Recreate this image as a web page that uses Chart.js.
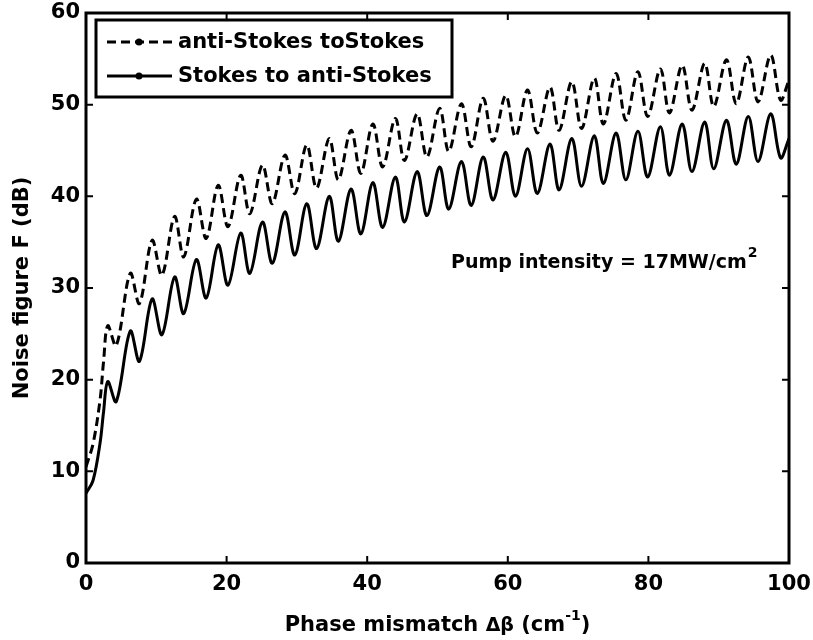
<!DOCTYPE html>
<html>
<head>
<meta charset="utf-8">
<script src="https://cdn.jsdelivr.net/npm/chart.js@4.4.0/dist/chart.umd.min.js"></script>
<style>
  html, body { margin: 0; padding: 0; background: #fff; }
</style>
</head>
<body>
<canvas id="grafico" width="813" height="640"></canvas>
<script>
// Valores (picos e vales de cada oscilação)
const faseX = [
  0, 1, 2, 2.5, 3.1, 4.3, 6.3, 7.6, 9.4, 10.8, 12.6, 13.9, 15.7, 17.1, 18.8, 20.2,
  22.0, 23.3, 25.1, 26.5, 28.3, 29.7, 31.4, 32.8, 34.6, 35.9, 37.7, 39.1, 40.8, 42.2,
  44.0, 45.3, 47.1, 48.5, 50.3, 51.6, 53.4, 54.8, 56.5, 57.9, 59.7, 61.1, 62.8, 64.2,
  66.0, 67.3, 69.1, 70.5, 72.3, 73.6, 75.4, 76.8, 78.5, 79.9, 81.7, 83.0, 84.8, 86.2,
  88.0, 89.3, 91.1, 92.5, 94.2, 95.6, 97.4, 98.8, 100
];

const antiParaStokes = [
  10.5, 13.0, 17.8, 22.0, 25.9, 23.7, 31.6, 28.3, 35.2, 31.4, 37.8, 33.4, 39.7, 35.4, 41.2, 36.7,
  42.3, 38.1, 43.4, 39.2, 44.5, 40.3, 45.6, 40.9, 46.3, 41.8, 47.2, 42.5, 47.9, 43.2,
  48.5, 43.9, 49.0, 44.3, 49.6, 44.9, 50.1, 45.4, 50.7, 46.0, 51.0, 46.5, 51.6, 46.9,
  51.9, 47.2, 52.5, 47.4, 52.9, 47.9, 53.4, 48.3, 53.6, 48.7, 53.9, 49.1, 54.3, 49.4,
  54.5, 49.8, 54.9, 50.1, 55.2, 50.3, 55.4, 50.5, 52.7
];

const stokesParaAnti = [
  7.6, 9.0, 13.1, 16.5, 19.8, 17.6, 25.3, 22.0, 28.8, 24.9, 31.2, 27.2, 33.1, 28.9, 34.7, 30.3,
  36.0, 31.6, 37.2, 32.7, 38.3, 33.6, 39.2, 34.3, 40.0, 35.1, 40.8, 35.9, 41.5, 36.6,
  42.1, 37.2, 42.7, 37.9, 43.2, 38.6, 43.8, 39.0, 44.3, 39.6, 44.8, 40.0, 45.2, 40.3,
  45.7, 40.7, 46.3, 41.1, 46.6, 41.4, 46.9, 41.8, 47.1, 42.1, 47.6, 42.3, 47.9, 42.7,
  48.1, 43.0, 48.3, 43.5, 48.7, 43.8, 49.0, 44.2, 46.3
];

const rotulos = ["anti-Stokes toStokes", "Stokes to anti-Stokes"];
const xTicks = [0, 20, 40, 60, 80, 100];
const yTicks = [0, 10, 20, 30, 40, 50, 60];

const FONTE = '"DejaVu Sans", sans-serif';

function pontos(ys) {
  return faseX.map((x, i) => ({ x: x, y: ys[i] }));
}

// Moldura com ticks para dentro (estilo MATLAB)
const molduraPlugin = {
  id: "moldura",
  afterDatasetsDraw(chart) {
    const { ctx, chartArea: a, scales } = chart;
    const sx = scales.x, sy = scales.y;
    ctx.save();
    ctx.strokeStyle = "#000";
    ctx.lineWidth = 2;
    ctx.beginPath();
    xTicks.forEach((t) => {
      const px = sx.getPixelForValue(t);
      ctx.moveTo(px, a.bottom); ctx.lineTo(px, a.bottom - 7);
      ctx.moveTo(px, a.top); ctx.lineTo(px, a.top + 7);
    });
    yTicks.forEach((t) => {
      const py = sy.getPixelForValue(t);
      ctx.moveTo(a.left, py); ctx.lineTo(a.left + 7, py);
      ctx.moveTo(a.right, py); ctx.lineTo(a.right - 7, py);
    });
    ctx.stroke();
    ctx.lineWidth = 3;
    ctx.strokeRect(a.left, a.top, a.right - a.left, a.bottom - a.top);
    ctx.restore();
  },
  afterDraw(chart) {
    const { ctx, chartArea: a } = chart;
    ctx.save();

    // legenda
    const bx = a.left + 10, by = a.top + 7, bw = 356, bh = 77;
    ctx.fillStyle = "#fff";
    ctx.fillRect(bx, by, bw, bh);
    ctx.strokeStyle = "#000";
    ctx.lineWidth = 3;
    ctx.strokeRect(bx, by, bw, bh);
    chart.data.datasets.forEach((ds, i) => {
      const ly = by + 22 + i * 34;
      ctx.beginPath();
      ctx.lineWidth = 3;
      ctx.setLineDash(ds.borderDash || []);
      ctx.moveTo(bx + 11, ly);
      ctx.lineTo(bx + 76, ly);
      ctx.stroke();
      ctx.setLineDash([]);
      ctx.beginPath();
      ctx.fillStyle = "#000";
      ctx.arc(bx + 43, ly, 3.5, 0, Math.PI * 2);
      ctx.fill();
      ctx.font = "bold 21px " + FONTE;
      ctx.textBaseline = "middle";
      ctx.textAlign = "left";
      ctx.fillText(ds.label, bx + 82, ly + 1);
    });

    // anotação
    ctx.fillStyle = "#000";
    ctx.textBaseline = "alphabetic";
    ctx.font = "bold 19px " + FONTE;
    const txt = "Pump intensity = 17MW/cm";
    ctx.fillText(txt, 451, 268);
    const w = ctx.measureText(txt).width;
    ctx.font = "bold 14px " + FONTE;
    ctx.fillText("2", 451 + w + 1, 257);

    // título do eixo x
    const cx = (a.left + a.right) / 2;
    const partes = [
      { t: "Phase mismatch ", f: "bold 21px " + FONTE, dy: 0 },
      { t: "\u0394\u03b2", f: "bold 19px " + FONTE, dy: 0 },
      { t: " (cm", f: "bold 21px " + FONTE, dy: 0 },
      { t: "-1", f: "bold 14px " + FONTE, dy: -11 },
      { t: ")", f: "bold 21px " + FONTE, dy: 0 }
    ];
    let total = 0;
    partes.forEach((p) => { ctx.font = p.f; p.w = ctx.measureText(p.t).width; total += p.w; });
    let px = cx - total / 2;
    const base = 631;
    partes.forEach((p) => {
      ctx.font = p.f;
      ctx.fillText(p.t, px, base + p.dy);
      px += p.w;
    });
    ctx.restore();
  }
};

const ctx = document.getElementById("grafico").getContext("2d");

new Chart(ctx, {
  type: "line",
  data: {
    datasets: [
      {
        label: rotulos[0],
        data: pontos(antiParaStokes),
        borderColor: "#000",
        borderWidth: 3,
        borderDash: [9, 5],
        pointRadius: 0,
        tension: 0.35,
        fill: false
      },
      {
        label: rotulos[1],
        data: pontos(stokesParaAnti),
        borderColor: "#000",
        borderWidth: 3,
        pointRadius: 0,
        tension: 0.35,
        fill: false
      }
    ]
  },
  options: {
    responsive: false,
    animation: false,
    devicePixelRatio: 1,
    layout: { padding: { top: 13, right: 24, left: 0, bottom: 0 } },
    plugins: {
      legend: { display: false },
      tooltip: { enabled: false }
    },
    scales: {
      x: {
        type: "linear",
        min: 0,
        max: 100,
        afterBuildTicks: (s) => { s.ticks = xTicks.map((v) => ({ value: v })); },
        afterFit: (s) => { s.height = 77; s.paddingLeft = 0; s.paddingRight = 0; },
        grid: { display: false, drawTicks: false },
        border: { display: false },
        ticks: {
          color: "#000",
          padding: 9,
          maxRotation: 0,
          font: { family: FONTE, size: 21, weight: "bold" }
        }
      },
      y: {
        min: 0,
        max: 60,
        afterBuildTicks: (s) => { s.ticks = yTicks.map((v) => ({ value: v })); },
        afterFit: (s) => { s.width = 86; s.paddingTop = 0; s.paddingBottom = 0; },
        grid: { display: false, drawTicks: false },
        border: { display: false },
        title: {
          display: true,
          text: "Noise figure F (dB)",
          color: "#000",
          padding: { top: 10, bottom: 0 },
          font: { family: FONTE, size: 21, weight: "bold" }
        },
        ticks: {
          color: "#000",
          padding: 6,
          font: { family: FONTE, size: 21, weight: "bold" }
        }
      }
    }
  },
  plugins: [molduraPlugin]
});
</script>
</body>
</html>
